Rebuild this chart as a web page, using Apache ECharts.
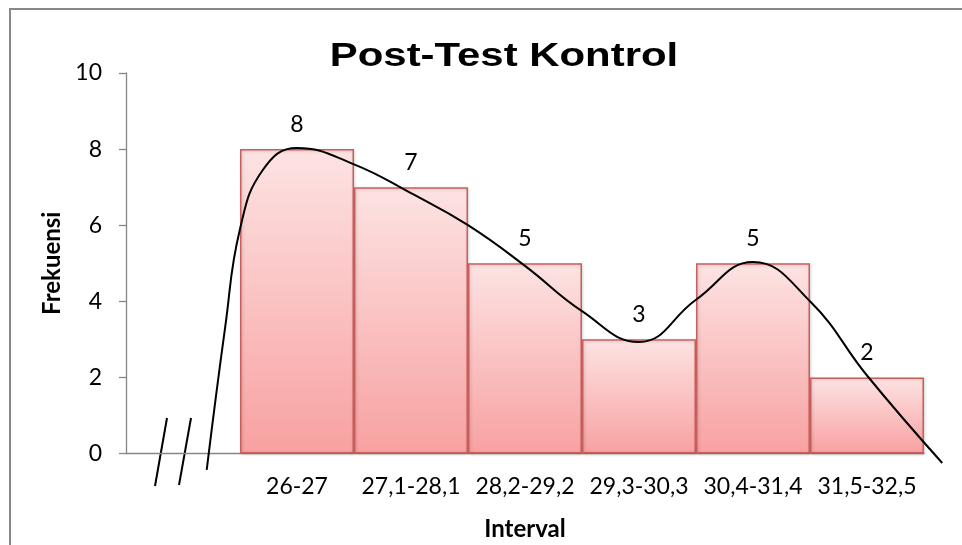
<!DOCTYPE html>
<html><head><meta charset="utf-8">
<script src="https://cdn.jsdelivr.net/npm/echarts@6/dist/echarts.min.js"></script>
<style>html,body{margin:0;padding:0;background:#fff}#c{width:962px;height:545px}</style>
</head><body><div id="c"></div>
<script>
const categories = ["", "26-27", "27,1-28,1", "28,2-29,2", "29,3-30,3", "30,4-31,4", "31,5-32,5"];
const frequencies = [null, 8, 7, 5, 3, 5, 2];
const yTicks = [0, 2, 4, 6, 8, 10];
// smooth curve, x in category-band units (band i spans [i, i+1])
const curveX = [0.708, 0.87, 1.0, 1.2, 1.5, 2.0, 2.5, 3.0, 3.5, 4.0, 4.5, 5.0, 5.5, 6.0, 6.5, 7.16];
const curveY = [-0.43, 3.32, 5.9, 7.45, 8.03, 7.6, 6.84, 6.0, 4.93, 3.74, 2.93, 4.04, 5.03, 4.0, 2.05, -0.25];

const chart = echarts.init(document.getElementById('c'));
const axisGray = '#868686';
const font = 'Lato, "Open Sans", sans-serif';
chart.setOption({
  animation: false,
  grid: [
    {left: 126, right: 38, top: 73, bottom: 91.5, containLabel: false, outerBoundsMode: 'none'},
    {left: 12, right: -76, top: 73, bottom: 91.5, containLabel: false, outerBoundsMode: 'none'}
  ],
  xAxis: [{
    type: 'category', data: categories, gridIndex: 0,
    name: 'Interval', nameLocation: 'middle', nameGap: 64,
    nameTextStyle: {fontFamily: font, fontWeight: 'bold', fontSize: 24, color: '#000'},
    axisLine: {lineStyle: {color: axisGray, width: 1.3}},
    axisTick: {alignWithLabel: false, length: 7, lineStyle: {color: axisGray, width: 1.3}},
    axisLabel: {fontFamily: font, fontSize: 23, color: '#000', margin: 22, interval: 0, hideOverlap: false},
    splitLine: {show: false}
  }, {
    type: 'value', gridIndex: 1, min: -1, max: 8, show: false
  }],
  yAxis: [{
    type: 'value', gridIndex: 0, min: 0, max: 10, interval: 2,
    name: 'Frekuensi', nameLocation: 'middle', nameGap: 59, nameRotate: 90,
    nameTextStyle: {fontFamily: font, fontWeight: 'bold', fontSize: 24, color: '#000'},
    axisLine: {show: true, lineStyle: {color: axisGray, width: 1.3}},
    axisTick: {show: true, length: 7, lineStyle: {color: axisGray, width: 1.3}},
    axisLabel: {fontFamily: font, fontSize: 23, color: '#000', margin: 24,
      formatter: v => yTicks.includes(v) ? String(v) : ''},
    splitLine: {show: false}
  }, {
    type: 'value', gridIndex: 1, min: 0, max: 10, show: false
  }],
  series: [{
    type: 'bar', data: frequencies, barCategoryGap: 0, barGap: 0,
    xAxisIndex: 0, yAxisIndex: 0,
    itemStyle: {
      color: new echarts.graphic.LinearGradient(0, 0, 0, 1, [
        {offset: 0, color: '#fde3e3'}, {offset: 1, color: '#f8a1a1'}]),
      borderColor: '#c95f5d', borderWidth: 1.5,
      shadowColor: 'rgba(0,0,0,0.18)', shadowBlur: 3, shadowOffsetX: 1, shadowOffsetY: 1
    },
    label: {show: true, position: 'top', distance: 13, fontFamily: font, fontSize: 23, color: '#000'},
    z: 2
  }, {
    type: 'line', xAxisIndex: 1, yAxisIndex: 1, smooth: 0.45, smoothConstraint: false, clip: false, symbol: 'none',
    data: curveX.map((x, i) => [x, curveY[i]]),
    lineStyle: {color: '#000', width: 2},
    z: 5
  }],
  graphic: [
    {type: 'rect', shape: {x: 10, y: 9, width: 970, height: 560}, style: {fill: 'none', stroke: '#888', lineWidth: 2}, silent: true},
    {type: 'text', x: 504, y: 57, scaleX: 1.27, originX: 0, originY: 0,
      style: {text: 'Post-Test Kontrol', font: 'bold 33px "Liberation Sans", Arial, sans-serif', fill: '#000', align: 'center', verticalAlign: 'middle'}},
    {type: 'line', shape: {x1: 155, y1: 486, x2: 167, y2: 418}, style: {stroke: '#000', lineWidth: 2}},
    {type: 'line', shape: {x1: 179, y1: 485, x2: 191, y2: 418}, style: {stroke: '#000', lineWidth: 2}}
  ]
});
</script></body></html>
